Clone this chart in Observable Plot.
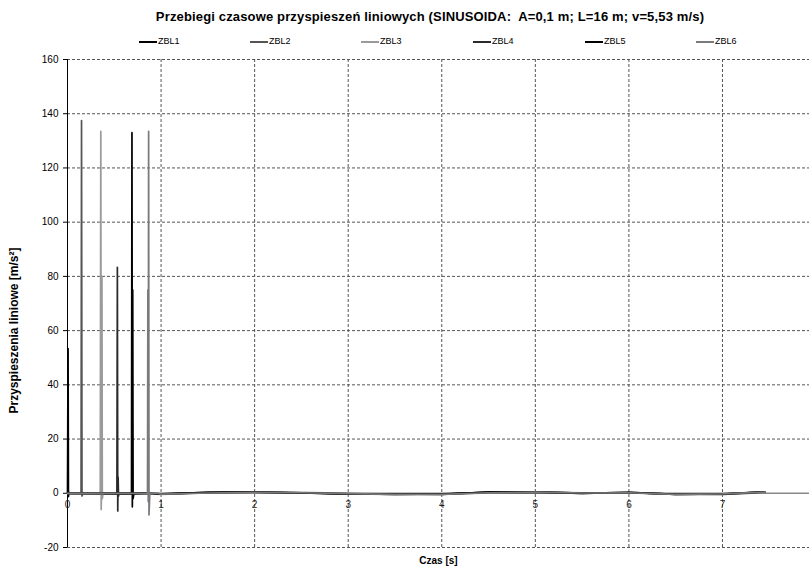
<!DOCTYPE html>
<html>
<head>
<meta charset="utf-8">
<script src="https://cdn.jsdelivr.net/npm/d3@7"></script>
<script src="https://cdn.jsdelivr.net/npm/@observablehq/plot@0.6"></script>
<style>
  body { margin: 0; background: #fff; font-family: "Liberation Sans", Arial, sans-serif; }
  #wrap { position: relative; width: 809px; height: 573px; overflow: hidden; }
  #title { position: absolute; left: 0; top: 9px; width: 860px; text-align: center; font-weight: bold; font-size: 13px; letter-spacing: 0.15px; white-space: pre; color: #000; }
  #legend { position: absolute; left: 0; top: 36px; width: 809px; height: 14px; }
  .item { position: absolute; top: 0; font-size: 9px; line-height: 11px; color: #000; white-space: nowrap; }
  .sw { display: inline-block; width: 18px; height: 2px; vertical-align: middle; margin-right: 1px; }
  #chart { position: absolute; left: 0; top: 50px; }
</style>
</head>
<body>
<div id="wrap">
  <div id="title"></div>
  <div id="legend"></div>
  <div id="chart"></div>
</div>
<script>
const titleText = "Przebiegi czasowe przyspieszeń liniowych (SINUSOIDA:  A=0,1 m; L=16 m; v=5,53 m/s)";
const xLabel = "Czas [s]";
const yLabel = "Przyspieszenia liniowe [m/s²]";

const seriesNames = ["ZBL1", "ZBL2", "ZBL3", "ZBL4", "ZBL5", "ZBL6"];
const seriesColors = ["#000000", "#555555", "#9a9a9a", "#2a2a2a", "#000000", "#7a7a7a"];

const xTicks = [0, 1, 2, 3, 4, 5, 6, 7];
const yTicks = [-20, 0, 20, 40, 60, 80, 100, 120, 140, 160];

const tailT = [1, 1.5, 2, 2.5, 3, 3.5, 4, 4.5, 5, 5.5, 6, 6.5, 7, 7.45];

const ZBL1_t = [0, 0.006, 0.010, 0.016, 0.03, 0.4, 0.8];
const ZBL1_a = [0, 53.4, -1.2, 0.3, 0, -0.2, -0.1];
const ZBL1_tail = [-0.3, 0.3, 0.4, 0.1, -0.3, -0.2, -0.4, 0.4, 0.3, 0, 0.3, -0.4, -0.2, 0.5];

const ZBL2_t = [0, 0.145, 0.150, 0.155, 0.165, 0.5, 0.8];
const ZBL2_a = [0, 0, 137.5, -1, 0, 0.1, -0.1];
const ZBL2_tail = [-0.2, 0.2, 0.5, 0.2, -0.1, -0.4, -0.3, 0.2, 0.5, 0.1, 0.1, -0.3, -0.4, 0.3];

const ZBL3_t = [0, 0.350, 0.356, 0.360, 0.364, 0.368, 0.372, 0.38, 0.7];
const ZBL3_a = [0, 0, 133.5, -6, 2, 80, -2, 0, 0.1];
const ZBL3_tail = [-0.4, 0.1, 0.4, 0.3, 0, -0.3, -0.4, 0.1, 0.4, 0.2, 0.2, -0.2, -0.4, 0.2];

const ZBL4_t = [0, 0.528, 0.533, 0.537, 0.541, 0.545, 0.55, 0.8];
const ZBL4_a = [0, 0, 83.3, -6.5, 6, -1, 0, 0.1];
const ZBL4_tail = [-0.3, 0.2, 0.5, 0.2, -0.2, -0.4, -0.2, 0.3, 0.4, 0, 0.3, -0.4, -0.3, 0.4];

const ZBL5_t = [0, 0.684, 0.689, 0.693, 0.697, 0.701, 0.71, 0.85];
const ZBL5_a = [0, 0, 133, -5, 75, -2, 0, 0.1];
const ZBL5_tail = [-0.2, 0.3, 0.4, 0.1, -0.2, -0.3, -0.3, 0.4, 0.5, 0.1, 0.2, -0.3, -0.3, 0.5];

const ZBL6_t = [0, 0.855, 0.859, 0.863, 0.867, 0.871, 0.88, 0.95];
const ZBL6_a = [0, 0, 75, -3, 133.5, -8, 0, 0.1];
const ZBL6_tail = [-0.3, 0.1, 0.3, 0.2, -0.1, -0.4, -0.4, 0.2, 0.4, 0.1, 0.2, -0.4, -0.2, 0.4];

const seriesT = [ZBL1_t, ZBL2_t, ZBL3_t, ZBL4_t, ZBL5_t, ZBL6_t];
const seriesA = [ZBL1_a, ZBL2_a, ZBL3_a, ZBL4_a, ZBL5_a, ZBL6_a];
const seriesTail = [ZBL1_tail, ZBL2_tail, ZBL3_tail, ZBL4_tail, ZBL5_tail, ZBL6_tail];

const rows = [];
seriesNames.forEach((name, i) => {
  seriesT[i].forEach((t, j) => rows.push({series: name, t, a: seriesA[i][j]}));
  tailT.forEach((t, j) => rows.push({series: name, t, a: seriesTail[i][j]}));
});

document.getElementById("title").textContent = titleText;

const legend = document.getElementById("legend");
const legendX = [139, 250, 361, 473, 585, 696];
seriesNames.forEach((name, i) => {
  const d = document.createElement("div");
  d.className = "item";
  d.style.left = legendX[i] + "px";
  d.innerHTML = `<span class="sw" style="background:${seriesColors[i]}"></span>${name}`;
  legend.appendChild(d);
});

const chart = Plot.plot({
  width: 809,
  height: 523,
  marginLeft: 67,
  marginRight: 0,
  marginTop: 9,
  marginBottom: 26,
  style: {fontFamily: "'Liberation Sans', Arial, sans-serif", fontSize: "10px", background: "#fff", color: "#000"},
  x: {domain: [0, 7.93], axis: null},
  y: {domain: [-20, 160], ticks: yTicks, label: null, tickSize: 4, tickPadding: 5, tickFormat: d => String(d)},
  color: {domain: seriesNames, range: seriesColors},
  marks: [
    Plot.ruleY(yTicks.filter(d => d !== 0), {stroke: "#555", strokeDasharray: "3,2", strokeWidth: 1}),
    Plot.ruleX(xTicks.filter(d => d !== 0), {stroke: "#555", strokeDasharray: "3,2", strokeWidth: 1}),
    Plot.ruleY([0], {stroke: "#888", strokeWidth: 1.5}),
    Plot.ruleX([0], {stroke: "#000", strokeWidth: 1}),
    Plot.line(rows, {x: "t", y: "a", z: "series", stroke: "series", strokeWidth: 1.7}),
    Plot.text(xTicks, {x: d => d, y: 0, text: d => String(d), dy: 12, fontSize: 10, fill: "#222"}),
    Plot.text([yLabel], {frameAnchor: "left", textAnchor: "middle", text: d => d, rotate: -90, dx: -53, dy: 27, fontWeight: "bold", fontSize: 12}),
    Plot.text([xLabel], {frameAnchor: "bottom", text: d => d, dy: 16, fontWeight: "bold", fontSize: 10})
  ]
});
document.getElementById("chart").appendChild(chart);
</script>
</body>
</html>
